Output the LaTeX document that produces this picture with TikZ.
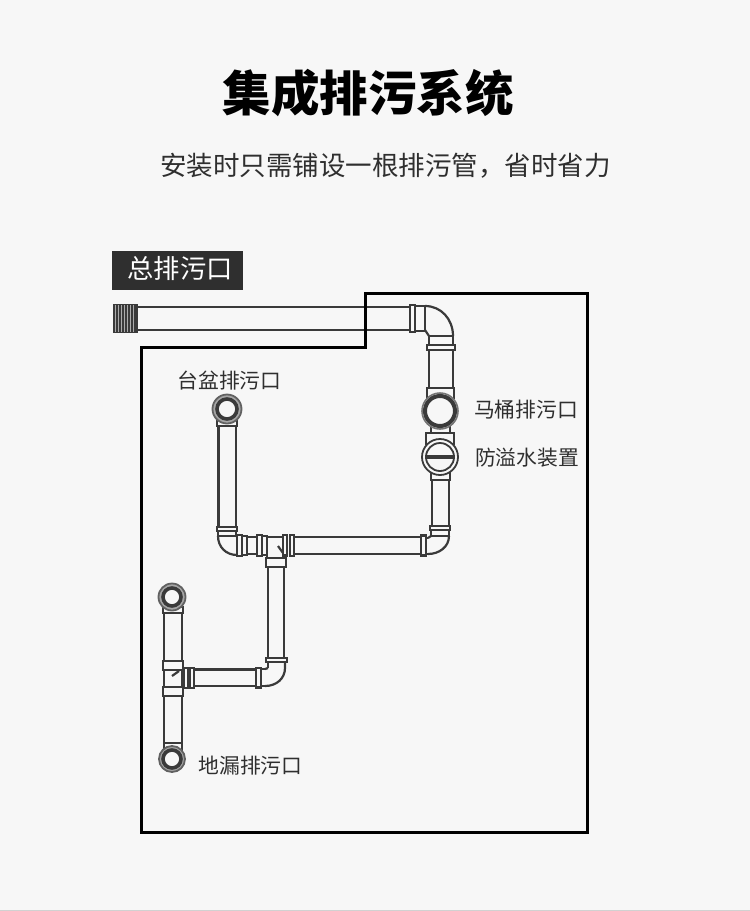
\documentclass[tikz,border=0pt]{standalone}
\usepackage{fontspec}
\setmainfont{Noto Sans CJK SC}
\usepackage{tikz}

\definecolor{pagebg}{HTML}{F7F7F7}
\definecolor{pipe}{HTML}{3A3A3A}
\definecolor{ink}{HTML}{2F2F2F}

\tikzset{
  wall/.style={draw=black, line width=3pt},
  tube/.style={draw=pipe, line width=2.2pt},
  band/.style={draw=pipe, line width=2.5pt, fill=pagebg},
  ring/.style={draw=pipe, circle, inner sep=0pt, line width=1.8pt, fill=pagebg},
  heavyring/.style={draw=pipe, circle, inner sep=0pt, line width=3.6pt, fill=pagebg},
  tag/.style={text=ink, font=\fontsize{20.8pt}{24pt}\selectfont, inner sep=0pt}
}

\begin{document}
\begin{tikzpicture}[x=1pt, y=-1pt]

    % page
    \fill [pagebg] (0, 0) rectangle (750, 911);
    \fill [black!18] (0, 909.5) rectangle (750, 911);
    \useasboundingbox (0, 0) rectangle (750, 911);

    % headings
    \node [font=\fontsize{48.5pt}{54pt}\selectfont\bfseries, inner sep=0pt] (title) at (368, 93) {集成排污系统};
    \node [text=ink, font=\fontsize{26.5pt}{30pt}\selectfont, inner sep=0pt] (subtitle) at (385.5, 166) {安装时只需铺设一根排污管，省时省力};
    \node [fill=ink, minimum width=131pt, minimum height=39pt, inner sep=0pt] (outlet) at (177.5, 270.5) {};
    \node [text=white, font=\fontsize{26.3pt}{30pt}\selectfont, inner sep=0pt] (outlettext) at (180, 269) {总排污口};

    % main run
    \draw [tube] (137, 307) -- (410, 307);
    \draw [tube] (137, 330) -- (410, 330);
    \fill [pipe] (113, 304) rectangle (138, 333);
    \foreach \x in {115.5, 118.5, ..., 136} {
      \draw [pagebg!60!pipe, line width=1pt] (\x, 305) -- (\x, 332);
    }

    % top elbow
    \draw [tube] (425, 306) .. controls (441, 306) and (453, 319) .. (453, 336);
    \draw [tube] (425, 330) -- (429, 336);
    \draw [band] (410, 305) rectangle (415, 332);
    \draw [tube] (415, 306) -- (425, 306) -- (425, 331) -- (415, 331);
    \draw [tube] (429, 336) -- (429, 345);
    \draw [tube] (453, 336) -- (453, 345);
    \draw [band] (427, 345) rectangle (455, 350);
    \draw [tube] (429, 336) -- (453, 336);

    % riser
    \draw [tube] (429, 350) -- (429, 389);
    \draw [tube] (453, 350) -- (453, 389);
    \draw [tube] (427, 399) -- (427, 388) -- (454, 388) -- (454, 399);
    \draw [tube] (431, 425) -- (431, 434);
    \draw [tube] (450, 425) -- (450, 434);
    \draw [tube, fill=pagebg] (426, 445) -- (426, 433) -- (454, 433) -- (454, 445);
    \draw [tube] (431, 470) -- (431, 480) -- (450, 480) -- (450, 470);
    \draw [tube] (432, 480) -- (432, 526);
    \draw [tube] (449, 480) -- (449, 526);

    % toilet outlet and overflow device
    \node [ring, draw=pipe!70, minimum size=36pt, line width=1.6pt] (toiletrim) at (440, 411) {};
    \node [heavyring, line width=4pt, minimum size=30pt] (toilet) at (440, 411) {};
    \node [ring, minimum size=36pt] (valve) at (440, 457) {};
    \node [ring, minimum size=28pt] (valvein) at (440, 457) {};
    \draw [pipe, line width=3.4pt] (valvein.west) -- (valvein.east);

    % right elbow
    \draw [band] (430, 526) rectangle (450, 530);
    \draw [tube] (431, 530) -- (431, 536) -- (449, 536) -- (449, 530);
    \draw [tube] (449, 536) .. controls (449, 547) and (439, 554) .. (428, 554);
    \draw [tube] (431, 536) -- (428, 538);
    \draw [band] (421, 535.5) rectangle (426, 555.5);
    \draw [tube] (426, 538) -- (428, 538);
    \draw [tube] (426, 554) -- (428, 554);

    % long horizontal
    \draw [tube] (294, 537) -- (421, 537);
    \draw [tube] (294, 554) -- (421, 554);

    % tee with branch
    \draw [band] (283, 535) rectangle (287, 556);
    \draw [band] (290, 535) rectangle (294, 556);
    \draw [tube] (267, 537) -- (283, 537);
    \draw [tube] (278, 546) -- (283, 553);
    \draw [band] (257, 535) rectangle (262, 556);
    \draw [tube, pipe] (262, 536) -- (267, 536) -- (267, 555) -- (262, 555);
    \draw [tube] (267, 554) -- (267, 558);
    \draw [tube] (285, 554) -- (285, 558);
    \draw [band] (266, 558) rectangle (286, 567);

    % left elbow
    \draw [band] (237, 535) rectangle (242, 556);
    \draw [tube] (242, 536) -- (247, 536) -- (247, 555) -- (242, 555);
    \draw [tube] (247, 537) -- (257, 537);
    \draw [tube] (247, 554) -- (257, 554);
    \draw [tube] (218, 536) .. controls (218, 547) and (226, 555) .. (237, 555);
    \draw [tube] (236, 535) -- (237, 537);
    \draw [band] (217, 527) rectangle (237, 531);
    \draw [tube] (218, 531) -- (218, 536) -- (236, 536) -- (236, 531);

    % basin branch
    \draw [tube] (218.5, 426) -- (218.5, 527);
    \draw [tube] (236, 426) -- (236, 527);
    \draw [band] (217, 419) rectangle (237, 426);
    \node [ring, draw=pipe!80, fill=pipe!45, minimum size=29pt] (basin) at (227, 409) {};
    \node [heavyring, minimum size=20pt] (basinin) at (227, 409) {};

    % lower riser
    \draw [tube] (268, 567) -- (268, 658);
    \draw [tube] (284, 567) -- (284, 658);
    \draw [band] (266, 658) rectangle (287, 662);
    \draw [tube] (268, 662) -- (268, 668);
    \draw [tube] (285, 662) -- (285, 668) .. controls (285, 678) and (277, 686) .. (265, 686);
    \draw [tube] (265, 669) -- (268, 668);

    % lower horizontal
    \draw [tube] (194, 669.5) -- (256, 669.5);
    \draw [tube] (194, 686) -- (256, 686);
    \draw [band] (256, 668) rectangle (261, 687.5);
    \draw [tube] (261, 669) -- (265, 669);
    \draw [tube] (261, 686) -- (265, 686);
    \draw [band] (184, 668) rectangle (188, 688);
    \draw [band] (190, 668) rectangle (194, 688);

    % floor drain riser
    \draw [tube] (164, 613) -- (164, 743);
    \draw [tube] (182, 613) -- (182, 743);
    \draw [band] (163, 607) rectangle (183, 613);
    \draw [band] (163, 661) rectangle (183, 670);
    \draw [band] (163, 687) rectangle (183, 696);
    \draw [tube] (172, 676) -- (179, 671);
    \draw [band] (164, 743) rectangle (182, 752);
    \node [ring, draw=pipe!80, fill=pipe!45, minimum size=27pt] (drainup) at (172, 597) {};
    \node [heavyring, minimum size=18pt] (drainupin) at (172, 597) {};
    \node [ring, draw=pipe!80, fill=pipe!45, minimum size=26pt] (drain) at (172, 759) {};
    \node [heavyring, minimum size=18pt] (drainin) at (172, 759) {};

    % room outline
    \draw [wall, line join=miter] (141, 347.5) -- (365.5, 347.5) -- (365.5, 293.5) -- (587, 293.5) -- (587, 832) -- (141, 832) -- cycle;

    % labels
    \node [tag] (basintag) at (229.5, 380.5) {台盆排污口};
    \node [tag] (toilettag) at (526, 410) {马桶排污口};
    \node [tag] (valvetag) at (527, 458) {防溢水装置};
    \node [tag] (draintag) at (250.5, 765.5) {地漏排污口};

\end{tikzpicture}
\end{document}
